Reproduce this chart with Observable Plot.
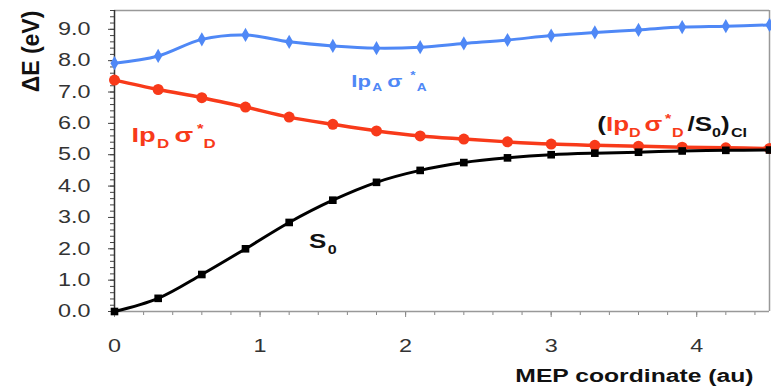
<!DOCTYPE html>
<html>
<head>
<meta charset="utf-8">
<script src="https://cdn.jsdelivr.net/npm/d3@7"></script>
<script src="https://cdn.jsdelivr.net/npm/@observablehq/plot@0.6"></script>
<style>
  html, body { margin: 0; padding: 0; background: #fff; }
  #chart { width: 771px; height: 392px; }
</style>
</head>
<body>
<div id="chart"></div>
<script>
// ---- data ----
const mep = [0, 0.3, 0.6, 0.9, 1.2, 1.5, 1.8, 2.1, 2.4, 2.7, 3.0, 3.3, 3.6, 3.9, 4.2, 4.5];
const ipAsigmaA = [7.92, 8.15, 8.68, 8.82, 8.6, 8.47, 8.4, 8.43, 8.55, 8.66, 8.8, 8.9, 8.98, 9.07, 9.1, 9.14];
const ipDsigmaD = [7.38, 7.08, 6.82, 6.52, 6.2, 5.97, 5.76, 5.6, 5.5, 5.41, 5.34, 5.3, 5.27, 5.24, 5.22, 5.2];
const s0 = [0, 0.42, 1.18, 2.0, 2.84, 3.55, 4.12, 4.5, 4.75, 4.9, 5.0, 5.05, 5.08, 5.12, 5.14, 5.15];
const xTicks = [0, 1, 2, 3, 4];
const yTicks = [0, 1, 2, 3, 4, 5, 6, 7, 8, 9];
const xTitle = "MEP coordinate (au)";
const yTitle = "ΔE (eV)";
// label pieces: [text, kind, colour-key]
const labelA = [["Ip", ""], ["A", "sub"], ["σ", ""], ["*", "sup"], ["A", "sub"]];
const labelD = [["Ip", ""], ["D", "sub"], ["σ", ""], ["*", "sup"], ["D", "sub"]];
const labelCI = [["(", "", "k"], ["Ip", "", "r"], ["D", "sub", "r"], ["σ", "", "r"], ["*", "sup", "r"], ["D", "sub", "r"], ["/S", "", "k"], ["0", "sub", "k"], [")", "", "k"], ["CI", "sub", "k"]];
const labelS0 = [["S", ""], ["0", "sub"]];

const BLUE = "#4f88f6", RED = "#f83a1a", BLACK = "#000";
const STRETCH = 1.3; // the reference's lettering is horizontally wide
const rows = (ys) => mep.map((x, i) => ({x, y: ys[i]}));
const A = rows(ipAsigmaA), D = rows(ipDsigmaD), S = rows(s0);
const minorX = d3.range(0, 23).map(i => +(i * 0.2).toFixed(1));
const minorY = d3.range(0, 49).map(i => +(i * 0.2).toFixed(1));

const plot = Plot.plot({
  width: 771,
  height: 392,
  marginLeft: 114,
  marginRight: 2,
  marginTop: 10,
  marginBottom: 81,
  x: {domain: [0, 4.5]},
  y: {domain: [0, 9.6]},
  style: {fontFamily: "'Liberation Sans', Arial, sans-serif", fontSize: "18px", color: "#333", background: "#fff"},
  marks: [
    Plot.axisX({ticks: minorX, tickSize: 4, tickFormat: () => "", stroke: "#888", label: null}),
    Plot.axisX({ticks: xTicks, tickSize: 6, tickPadding: 22, tickFormat: d => String(d), stroke: "#888", fill: "#333", label: null}),
    Plot.axisY({ticks: minorY, tickSize: 4, tickFormat: () => "", stroke: "#444", label: null}),
    Plot.axisY({ticks: yTicks, tickSize: 6, tickPadding: 18, tickFormat: d3.format(".1f"), stroke: "#444", fill: "#333", label: null}),
    Plot.ruleY([9.6], {stroke: "#999", strokeWidth: 1.5}),
    Plot.ruleX([4.5], {stroke: "#999", strokeWidth: 1.5}),
    Plot.ruleY([0], {stroke: "#999", strokeWidth: 1.5}),
    Plot.ruleX([0], {stroke: "#333", strokeWidth: 1.5}),
    Plot.line(A, {x: "x", y: "y", stroke: BLUE, strokeWidth: 3, curve: "catmull-rom"}),
    Plot.dot(A, {x: "x", y: "y", symbol: "diamond", r: 4.3, fill: BLUE}),
    Plot.line(D, {x: "x", y: "y", stroke: RED, strokeWidth: 3.5, curve: "catmull-rom"}),
    Plot.dot(D, {x: "x", y: "y", r: 5.5, fill: RED}),
    Plot.line(S, {x: "x", y: "y", stroke: BLACK, strokeWidth: 3, curve: "catmull-rom"}),
    Plot.dot(S, {x: "x", y: "y", symbol: "square", r: 4.3, fill: BLACK}),
    Plot.text([xTitle], {frameAnchor: "bottom-right", dx: -16, dy: 70, textAnchor: "end", fontWeight: "bold", fontSize: 19, fill: "#111"}),
    Plot.text([yTitle], {frameAnchor: "top-left", dx: -92, dy: 41, rotate: -90, textAnchor: "middle", fontWeight: "bold", fontSize: 23, fill: "#111"})
  ]
});
document.getElementById("chart").appendChild(plot);

// widen the tick labels and x title like the reference
function stretch(el) {
  const t = el.getAttribute("transform");
  if (t) {
    el.setAttribute("transform", t + ` scale(${STRETCH},1)`);
  } else {
    const x = +el.getAttribute("x") || 0, y = +el.getAttribute("y") || 0;
    el.setAttribute("x", 0); el.setAttribute("y", 0);
    el.setAttribute("transform", `translate(${x},${y}) scale(${STRETCH},1)`);
  }
}
plot.querySelectorAll('g[aria-label$="tick label"] text').forEach(stretch);
plot.querySelectorAll('g[aria-label="text"] text').forEach(el => {
  if (el.textContent === xTitle) stretch(el);
});

// rich labels (sub/superscripts) placed with the plot's scales
const sx = plot.scale("x"), sy = plot.scale("y");
const svg = d3.select(plot);
function drawLabel(parts, xv, yv, size, colorOf, gaps) {
  const x0 = sx.apply(xv), y0 = sy.apply(yv);
  const g = svg.append("g")
    .attr("transform", `translate(${x0},${y0}) scale(${STRETCH},1)`)
    .attr("font-family", "'Liberation Sans', Arial, sans-serif")
    .attr("font-weight", "bold")
    .attr("text-anchor", "start");
  const t = g.append("text").attr("x", 0).attr("y", 0).attr("font-size", size).attr("text-anchor", "start");
  parts.forEach((p, i) => {
    const kind = p[1];
    const ts = t.append("tspan").text(p[0]).attr("fill", colorOf(p));
    ts.attr("y", kind === "sub" ? size * 0.28 : kind === "sup" ? -size * 0.42 : 0);
    if (kind) ts.attr("font-size", size * 0.62);
    if (i > 0 && gaps[i - 1]) ts.attr("dx", gaps[i - 1]);
  });
}
drawLabel(labelA, 1.63, 7.16, 17, () => BLUE, [1, 4, 6, 1]);
drawLabel(labelD, 0.12, 5.4, 21, () => RED, [1, 4, 3, 0]);
drawLabel(labelCI, 3.32, 5.74, 20, p => p[2] === "r" ? RED : "#111", [0, 0, 3, 2, 0.5, 3, 0, 0, 1]);
drawLabel(labelS0, 1.34, 2.0, 20, () => "#111", [1]);
</script>
</body>
</html>
